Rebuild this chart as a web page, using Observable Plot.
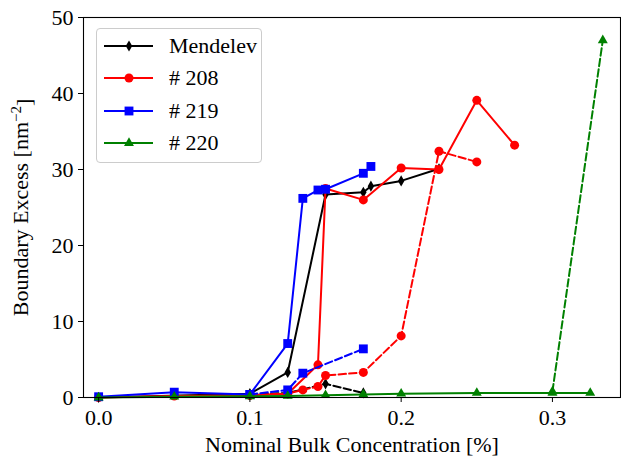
<!DOCTYPE html>
<html>
<head>
<meta charset="utf-8">
<script src="https://cdn.jsdelivr.net/npm/d3@7"></script>
<script src="https://cdn.jsdelivr.net/npm/@observablehq/plot@0.6"></script>
<style>
  html, body { margin: 0; padding: 0; background: #fff; }
  #wrap { position: relative; width: 621px; height: 459px; font-family: 'Liberation Serif', 'Tinos', 'Times New Roman', 'Nimbus Roman', 'DejaVu Serif', serif; }
  #wrap svg text { font-family: 'Liberation Serif', 'Tinos', 'Times New Roman', 'Nimbus Roman', 'DejaVu Serif', serif !important; }
  #legend { position: absolute; left: 96px; top: 28px; width: 166px; height: 135px; box-sizing: border-box;
    border: 1px solid #cccccc; border-radius: 4px; background: rgba(255,255,255,0.8); }
  #legend .row { position: absolute; left: 0; height: 30px; width: 100%; }
  #legend svg { position: absolute; left: 0; top: 0; }
  #legend span { position: absolute; left: 72px; top: 0; line-height: 30px; font-size: 22px; color: #000; white-space: nowrap; }
</style>
</head>
<body>
<div id="wrap"><div id="legend"></div></div>
<script>
// ---- data ----
const xTicks = [0, 0.1, 0.2, 0.3];
const yTicks = [0, 10, 20, 30, 40, 50];
const seriesNames = ["Mendelev", "# 208", "# 219", "# 220"];

const mendelevSolidX = [0, 0.1, 0.125, 0.15, 0.175, 0.18, 0.2, 0.225];
const mendelevSolidY = [0, 0.5, 3.3, 26.7, 27.0, 27.8, 28.5, 30.1];
const mendelevDashedX = [0.1, 0.125, 0.15, 0.175];
const mendelevDashedY = [0.4, 0.6, 1.8, 0.6];

const s208SolidX = [0, 0.05, 0.1, 0.125, 0.145, 0.15, 0.175, 0.2, 0.225, 0.25, 0.275];
const s208SolidY = [0, 0.2, 0.3, 0.5, 4.3, 27.5, 26.0, 30.2, 30.0, 39.1, 33.2];
const s208DashedX = [0.1, 0.125, 0.135, 0.145, 0.15, 0.175, 0.2, 0.225, 0.25];
const s208DashedY = [0.3, 0.5, 1.0, 1.45, 2.9, 3.3, 8.1, 32.4, 31.0];

const s219SolidX = [0, 0.05, 0.1, 0.125, 0.135, 0.145, 0.15, 0.175, 0.18];
const s219SolidY = [0.1, 0.7, 0.4, 7.1, 26.2, 27.3, 27.4, 29.5, 30.4];
const s219DashedX = [0.1, 0.125, 0.135, 0.175];
const s219DashedY = [0.4, 1.0, 3.2, 6.4];

const s220SolidX = [0, 0.05, 0.1, 0.125, 0.15, 0.175, 0.2, 0.25, 0.3, 0.325];
const s220SolidY = [0, 0.1, 0.15, 0.2, 0.3, 0.4, 0.5, 0.6, 0.6, 0.6];
const s220DashedX = [0.3, 0.3333];
const s220DashedY = [0.8, 47.0];

// ---- styles ----
const fontStack = "'Liberation Serif', 'Tinos', 'Times New Roman', 'Nimbus Roman', 'DejaVu Serif', serif";
const colors = ["#000000", "#ff0000", "#0000ff", "#008000"];
const symbols = ["diamond", "circle", "square", "triangle"];
const radii = [3.4, 4.5, 5.0, 3.7];
const d3Symbols = [d3.symbolDiamond, d3.symbolCircle, d3.symbolSquare, d3.symbolTriangle];

const rows = (xs, ys) => xs.map((x, i) => ({x, y: ys[i]}));
const groups = [
  [mendelevSolidX, mendelevSolidY, mendelevDashedX, mendelevDashedY],
  [s208SolidX, s208SolidY, s208DashedX, s208DashedY],
  [s219SolidX, s219SolidY, s219DashedX, s219DashedY],
  [s220SolidX, s220SolidY, s220DashedX, s220DashedY]
];

const marks = [];
groups.forEach((g, k) => {
  const solid = rows(g[0], g[1]);
  const dashed = rows(g[2], g[3]);
  marks.push(Plot.line(solid, {x: "x", y: "y", stroke: colors[k], strokeWidth: 2}));
  marks.push(Plot.dot(solid, {x: "x", y: "y", symbol: () => symbols[k], r: radii[k], fill: colors[k], stroke: "none"}));
  marks.push(Plot.line(dashed, {x: "x", y: "y", stroke: colors[k], strokeWidth: 2, strokeDasharray: "7.4,3.2"}));
  marks.push(Plot.dot(dashed, {x: "x", y: "y", symbol: () => symbols[k], r: radii[k], fill: colors[k], stroke: "none"}));
});

const chart = Plot.plot({
  width: 621,
  height: 459,
  marginLeft: 83,
  marginRight: 1,
  marginTop: 17,
  marginBottom: 62,
  style: {fontFamily: fontStack, fontSize: "22px", background: "#fff", color: "#000"},
  x: {domain: [-0.01, 0.345]},
  y: {domain: [0, 50]},
  symbol: {type: "identity"},
  marks: [
    ...marks,
    Plot.frame({stroke: "#000", strokeWidth: 1.1}),
    Plot.axisX({ticks: xTicks, tickFormat: d3.format(".1f"), tickSize: 5, tickPadding: 7, fontSize: 22,
      label: "Nominal Bulk Concentration [%]", labelAnchor: "center", labelArrow: "none", labelOffset: 54}),
    Plot.axisY({ticks: yTicks, tickFormat: d3.format("d"), tickSize: 5, tickPadding: 5, fontSize: 22,
      label: "Boundary Excess [nm⁻²]", labelAnchor: "center", labelArrow: "none", labelOffset: 71})
  ]
});
document.getElementById("wrap").prepend(chart);

// mathtext-like superscript for the y label
chart.querySelectorAll("text").forEach(t => {
  if (t.textContent === "Boundary Excess [nm⁻²]") {
    const ns = "http://www.w3.org/2000/svg";
    const holder = t.querySelector("tspan") || t;
    holder.textContent = "Boundary Excess [nm";
    const sup = document.createElementNS(ns, "tspan");
    sup.setAttribute("dy", "-0.45em");
    sup.setAttribute("font-size", "15px");
    sup.textContent = "−2";
    const close = document.createElementNS(ns, "tspan");
    close.setAttribute("dy", "0.45em");
    close.textContent = "]";
    t.appendChild(sup);
    t.appendChild(close);
  }
});

// ---- legend ----
const legend = document.getElementById("legend");
seriesNames.forEach((name, k) => {
  const row = document.createElement("div");
  row.className = "row";
  row.style.top = (2 + k * 32.3) + "px";
  const ns = "http://www.w3.org/2000/svg";
  const svg = document.createElementNS(ns, "svg");
  svg.setAttribute("width", 70);
  svg.setAttribute("height", 30);
  const line = document.createElementNS(ns, "line");
  line.setAttribute("x1", 7); line.setAttribute("x2", 56);
  line.setAttribute("y1", 15); line.setAttribute("y2", 15);
  line.setAttribute("stroke", colors[k]); line.setAttribute("stroke-width", 2);
  svg.appendChild(line);
  const p = document.createElementNS(ns, "path");
  p.setAttribute("d", d3.symbol(d3Symbols[k], Math.PI * radii[k] * radii[k])());
  p.setAttribute("transform", "translate(32,15)");
  p.setAttribute("fill", colors[k]);
  svg.appendChild(p);
  row.appendChild(svg);
  const t = document.createElement("span");
  t.textContent = name;
  row.appendChild(t);
  legend.appendChild(row);
});
</script>
</body>
</html>
